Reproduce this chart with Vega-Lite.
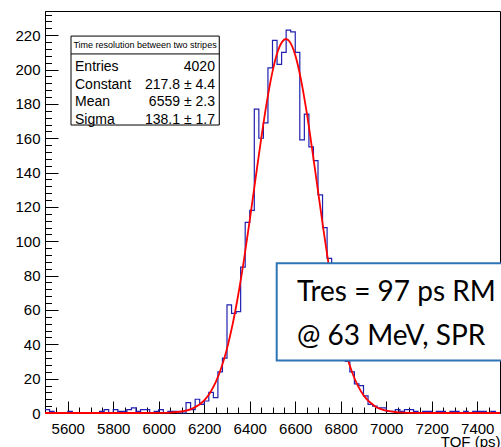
{
  "$schema": "https://vega.github.io/schema/vega-lite/v6.json",
  "width": 455,
  "height": 402,
  "autosize": "none",
  "padding": {"left": 45, "top": 11, "right": 1, "bottom": 34},
  "background": "white",
  "config": {"view": {"stroke": "black", "strokeWidth": 1}, "font": "Liberation Sans"},
  "datasets": {
    "hist": [
      {"t": 5500, "n": 2}, {"t": 5520, "n": 1}, {"t": 5540, "n": 0}, {"t": 5560, "n": 0}, {"t": 5580, "n": 0},
      {"t": 5600, "n": 1}, {"t": 5620, "n": 0}, {"t": 5640, "n": 0}, {"t": 5660, "n": 0}, {"t": 5680, "n": 0},
      {"t": 5700, "n": 0}, {"t": 5720, "n": 0}, {"t": 5740, "n": 1}, {"t": 5760, "n": 2}, {"t": 5780, "n": 0},
      {"t": 5800, "n": 2}, {"t": 5820, "n": 1}, {"t": 5840, "n": 1}, {"t": 5860, "n": 2}, {"t": 5880, "n": 3},
      {"t": 5900, "n": 1}, {"t": 5920, "n": 2}, {"t": 5940, "n": 2}, {"t": 5960, "n": 0}, {"t": 5980, "n": 1},
      {"t": 6000, "n": 2}, {"t": 6020, "n": 0}, {"t": 6040, "n": 1}, {"t": 6060, "n": 1}, {"t": 6080, "n": 0},
      {"t": 6100, "n": 0}, {"t": 6120, "n": 6}, {"t": 6140, "n": 2}, {"t": 6160, "n": 8}, {"t": 6180, "n": 5},
      {"t": 6200, "n": 7}, {"t": 6220, "n": 12}, {"t": 6240, "n": 9}, {"t": 6260, "n": 24}, {"t": 6280, "n": 32},
      {"t": 6300, "n": 63}, {"t": 6320, "n": 58}, {"t": 6340, "n": 59}, {"t": 6360, "n": 85}, {"t": 6380, "n": 111},
      {"t": 6400, "n": 118}, {"t": 6420, "n": 177}, {"t": 6440, "n": 160}, {"t": 6460, "n": 169}, {"t": 6480, "n": 201},
      {"t": 6500, "n": 217}, {"t": 6520, "n": 203}, {"t": 6540, "n": 210}, {"t": 6560, "n": 223}, {"t": 6580, "n": 222},
      {"t": 6600, "n": 210}, {"t": 6620, "n": 159}, {"t": 6640, "n": 174}, {"t": 6660, "n": 155}, {"t": 6680, "n": 147},
      {"t": 6700, "n": 127}, {"t": 6720, "n": 108}, {"t": 6740, "n": 90}, {"t": 6760, "n": 70}, {"t": 6780, "n": 55},
      {"t": 6800, "n": 42}, {"t": 6820, "n": 30}, {"t": 6840, "n": 24}, {"t": 6860, "n": 17}, {"t": 6880, "n": 16},
      {"t": 6900, "n": 10}, {"t": 6920, "n": 5}, {"t": 6940, "n": 4}, {"t": 6960, "n": 3}, {"t": 6980, "n": 3},
      {"t": 7000, "n": 1}, {"t": 7020, "n": 1}, {"t": 7040, "n": 2}, {"t": 7060, "n": 1}, {"t": 7080, "n": 2},
      {"t": 7100, "n": 2}, {"t": 7120, "n": 1}, {"t": 7140, "n": 0}, {"t": 7160, "n": 1}, {"t": 7180, "n": 1},
      {"t": 7200, "n": 0}, {"t": 7220, "n": 1}, {"t": 7240, "n": 1}, {"t": 7260, "n": 0}, {"t": 7280, "n": 1},
      {"t": 7300, "n": 1}, {"t": 7320, "n": 0}, {"t": 7340, "n": 1}, {"t": 7360, "n": 0}, {"t": 7380, "n": 1},
      {"t": 7400, "n": 1}, {"t": 7420, "n": 1}, {"t": 7440, "n": 0}, {"t": 7460, "n": 1}, {"t": 7480, "n": 0},
      {"t": 7500, "n": 0}
    ],
    "fit": [
      {"t": 5500, "f": 0}, {"t": 5800, "f": 0}, {"t": 6000, "f": 0.06}, {"t": 6050, "f": 0.24}, {"t": 6100, "f": 0.87},
      {"t": 6150, "f": 2.7}, {"t": 6200, "f": 7.4}, {"t": 6225, "f": 11.7}, {"t": 6250, "f": 17.8}, {"t": 6275, "f": 26.3},
      {"t": 6300, "f": 37.5}, {"t": 6325, "f": 51.8}, {"t": 6350, "f": 69.3}, {"t": 6375, "f": 89.6}, {"t": 6400, "f": 112.3},
      {"t": 6425, "f": 136}, {"t": 6450, "f": 159.5}, {"t": 6475, "f": 181}, {"t": 6500, "f": 198.8}, {"t": 6525, "f": 211.3},
      {"t": 6559, "f": 217.8}, {"t": 6575, "f": 216.3}, {"t": 6600, "f": 208.4}, {"t": 6625, "f": 194.3}, {"t": 6650, "f": 175.3},
      {"t": 6675, "f": 153}, {"t": 6700, "f": 129.3}, {"t": 6725, "f": 105.7}, {"t": 6750, "f": 83.7}, {"t": 6775, "f": 64.1},
      {"t": 6800, "f": 47.5}, {"t": 6825, "f": 34.1}, {"t": 6850, "f": 23.7}, {"t": 6875, "f": 15.9}, {"t": 6900, "f": 10.3},
      {"t": 6950, "f": 4.0}, {"t": 7000, "f": 1.33}, {"t": 7050, "f": 0.39}, {"t": 7100, "f": 0.1}, {"t": 7200, "f": 0}, {"t": 7500, "f": 0}
    ]
  },
  "layer": [
    {
      "data": {"name": "hist"},
      "mark": {"type": "line", "interpolate": "step-after", "color": "#2020b0", "strokeWidth": 1.2},
      "encoding": {
        "x": {
          "field": "t", "type": "quantitative",
          "scale": {"domain": [5500, 7500], "nice": false, "zero": false},
          "axis": {
            "values": [5500,5550,5600,5650,5700,5750,5800,5850,5900,5950,6000,6050,6100,6150,6200,6250,6300,6350,6400,6450,6500,6550,6600,6650,6700,6750,6800,6850,6900,6950,7000,7050,7100,7150,7200,7250,7300,7350,7400,7450],
            "tickCount": 500,
            "format": "d",
            "labelExpr": "datum.value % 200 === 0 ? datum.label : ''",
            "tickSize": -12,
            "tickDash": {"condition": {"test": "datum.value % 200 !== 0", "value": [6, 40]}, "value": [40, 0]},
            "tickColor": "black", "domainColor": "black", "tickWidth": 1,
            "labelFontSize": 15, "labelColor": "black", "labelFont": "Liberation Sans",
            "labelPadding": 20, "labelOverlap": false, "labelFlush": false, "labelBound": false,
            "grid": false,
            "title": "TOF (ps)", "titleFontSize": 15, "titleFontWeight": "normal",
            "titleColor": "black", "titleFont": "Liberation Sans",
            "titleX": 455, "titleY": 33, "titleAlign": "right", "titleBaseline": "alphabetic", "titleAnchor": null
          }
        },
        "y": {
          "field": "n", "type": "quantitative",
          "scale": {"domain": [0, 234.1], "nice": false},
          "axis": {
            "values": [0,4,8,12,16,20,24,28,32,36,40,44,48,52,56,60,64,68,72,76,80,84,88,92,96,100,104,108,112,116,120,124,128,132,136,140,144,148,152,156,160,164,168,172,176,180,184,188,192,196,200,204,208,212,216,220,224,228,232],
            "tickCount": 500,
            "format": "d",
            "labelExpr": "datum.value % 20 === 0 ? datum.label : ''",
            "tickSize": -13,
            "tickDash": {"condition": {"test": "datum.value % 20 !== 0", "value": [6.5, 40]}, "value": [40, 0]},
            "tickColor": "black", "domainColor": "black", "tickWidth": 1,
            "labelFontSize": 15, "labelColor": "black", "labelFont": "Liberation Sans",
            "labelPadding": 18, "labelOverlap": false, "labelFlush": false, "labelBound": false,
            "grid": false, "title": null
          }
        }
      }
    },
    {
      "data": {"name": "fit"},
      "mark": {"type": "line", "interpolate": "monotone", "color": "#ff0000", "strokeWidth": 1.8},
      "encoding": {
        "x": {"field": "t", "type": "quantitative"},
        "y": {"field": "f", "type": "quantitative"}
      }
    },
    {
      "data": {"values": [{}]},
      "mark": {"type": "rect", "fill": "#333333", "xOffset": 1.5, "yOffset": 1.5},
      "encoding": {"x": {"datum": 5614.3}, "x2": {"datum": 6266}, "y": {"datum": 219.5}, "y2": {"datum": 167.7}}
    },
    {
      "data": {"values": [{}]},
      "mark": {"type": "rect", "fill": "white", "stroke": "black", "strokeWidth": 1},
      "encoding": {"x": {"datum": 5614.3}, "x2": {"datum": 6266}, "y": {"datum": 219.5}, "y2": {"datum": 167.7}}
    },
    {
      "data": {"values": [{}]},
      "mark": {"type": "rule", "color": "black", "strokeWidth": 1},
      "encoding": {"x": {"datum": 5614.3}, "x2": {"datum": 6266}, "y": {"datum": 209.1}}
    },
    {
      "data": {"values": [{}]},
      "mark": {"type": "text", "fontSize": 9, "font": "Liberation Sans", "align": "center", "baseline": "middle", "color": "black"},
      "encoding": {"x": {"datum": 5939.6}, "y": {"datum": 214.3}, "text": {"value": "Time resolution between two stripes"}}
    },
    {
      "data": {"values": [{}]},
      "mark": {"type": "text", "fontSize": 14, "font": "Liberation Sans", "align": "left", "baseline": "alphabetic", "lineHeight": 17.8, "color": "black"},
      "encoding": {"x": {"datum": 5631.9}, "y": {"datum": 199.3}, "text": {"value": ["Entries", "Constant", "Mean", "Sigma"]}}
    },
    {
      "data": {"values": [{}]},
      "mark": {"type": "text", "fontSize": 14, "font": "Liberation Sans", "align": "right", "baseline": "alphabetic", "lineHeight": 17.8, "color": "black"},
      "encoding": {"x": {"datum": 6247}, "y": {"datum": 199.3}, "text": {"value": ["4020", "217.8 ± 4.4", "6559 ± 2.3", "138.1 ± 1.7"]}}
    },
    {
      "data": {"values": [{}]},
      "mark": {"type": "rect", "fill": "white", "stroke": "#2e75b6", "strokeWidth": 2},
      "encoding": {"x": {"datum": 6518.5}, "x2": {"datum": 7560}, "y": {"datum": 87.2}, "y2": {"datum": 30.5}}
    },
    {
      "data": {"values": [{}]},
      "mark": {"type": "text", "fontSize": 28, "font": "Lato", "align": "left", "baseline": "middle", "color": "black"},
      "encoding": {"x": {"datum": 6607.7}, "y": {"datum": 69.9}, "text": {"value": "Tres = 97 ps RM"}}
    },
    {
      "data": {"values": [{}]},
      "mark": {"type": "text", "fontSize": 28, "font": "Lato", "align": "left", "baseline": "middle", "color": "black"},
      "encoding": {"x": {"datum": 6607.7}, "y": {"datum": 44.4}, "text": {"value": "@ 63 MeV, SPR"}}
    }
  ]
}
